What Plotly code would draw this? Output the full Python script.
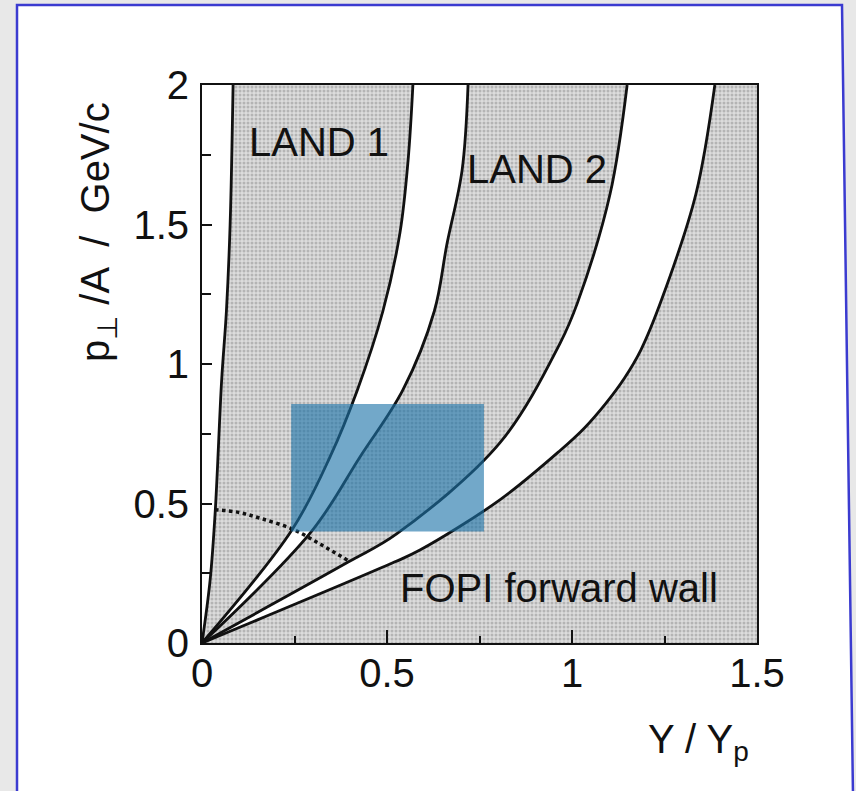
import plotly.graph_objects as go

# ---- data (Y/Yp, pt/A in GeV/c) ----
c1_Y  = [0.0, 0.022, 0.036, 0.053, 0.066, 0.076, 0.084]
c1_pt = [0.0, 0.226, 0.477, 0.94, 1.19, 1.5, 2.0]

c2_Y  = [0.0, 0.243, 0.346, 0.42, 0.489, 0.535, 0.557, 0.57]
c2_pt = [0.0, 0.405, 0.667, 0.907, 1.19, 1.47, 1.73, 2.0]

c3_Y  = [0.0, 0.296, 0.427, 0.543, 0.628, 0.662, 0.703, 0.719]
c3_pt = [0.0, 0.40, 0.667, 0.907, 1.19, 1.43, 1.695, 2.0]

c4_Y  = [0.0, 0.395, 0.525, 0.805, 0.968, 1.015, 1.103, 1.149]
c4_pt = [0.0, 0.29, 0.39, 0.717, 1.075, 1.22, 1.61, 2.0]

c5_Y  = [0.0, 0.52, 0.589, 0.805, 0.968, 1.033, 1.092, 1.142, 1.186, 1.242, 1.335, 1.386]
c5_pt = [0.0, 0.29, 0.333, 0.513, 0.69, 0.77, 0.86, 0.95, 1.05, 1.23, 1.61, 2.0]

dot_Y  = [0.035, 0.10, 0.16, 0.245, 0.325, 0.398]
dot_pt = [0.478, 0.468, 0.446, 0.408, 0.35, 0.293]

highlight_Y = [0.241, 0.762]
highlight_pt = [0.40, 0.857]

x_range = [0, 1.5]
y_range = [0, 2]
x_ticks = [0, 0.5, 1, 1.5]
x_ticktext = ["0", "0.5", "1", "1.5"]
y_ticks = [0, 0.5, 1, 1.5, 2]
y_ticktext = ["0", "0.5", "1", "1.5", "2"]

labels = [("LAND 1", 0.122, 1.795), ("LAND 2", 0.711, 1.70), ("FOPI forward wall", 0.530, 0.197)]

FONT = "Liberation Sans, Arial, Helvetica, sans-serif"
INK = "#111111"

fig = go.Figure()
line = dict(color=INK, width=2.8, shape="spline", smoothing=1.0)

# stippled gray acceptance background over the full axis range
fig.add_trace(go.Scatter(x=[x_range[0], x_range[1], x_range[1], x_range[0]],
                         y=[y_range[0], y_range[0], y_range[1], y_range[1]],
                         mode="none", fill="toself", fillcolor="#cfcfcf",
                         fillpattern=dict(shape=".", bgcolor="#dcdcdc", fgcolor="#8c8c8c",
                                          size=4, solidity=0.45)))
fig.add_trace(go.Scatter(x=c1_Y, y=c1_pt, mode="lines", line=line, fill="tozerox", fillcolor="white"))
fig.add_trace(go.Scatter(x=c2_Y, y=c2_pt, mode="lines", line=line))
fig.add_trace(go.Scatter(x=c3_Y, y=c3_pt, mode="lines", line=line, fill="tonextx", fillcolor="white"))
fig.add_trace(go.Scatter(x=c4_Y, y=c4_pt, mode="lines", line=line))
fig.add_trace(go.Scatter(x=c5_Y, y=c5_pt, mode="lines", line=line, fill="tonextx", fillcolor="white"))
fig.add_trace(go.Scatter(x=dot_Y, y=dot_pt, mode="lines",
                         line=dict(color=INK, width=3.5, dash="dot", shape="spline")))

for text, xv, yv in labels:
    fig.add_annotation(x=xv, y=yv, text=text, showarrow=False, xanchor="left", yanchor="middle",
                       font=dict(family=FONT, size=40, color=INK))

# highlight rectangle
fig.add_shape(type="rect", xref="x", yref="y", x0=highlight_Y[0], x1=highlight_Y[1],
              y0=highlight_pt[0], y1=highlight_pt[1], fillcolor="rgba(28,115,168,0.62)",
              line=dict(width=0), layer="above")

# page frame: gray strips and blue border (paper coords relative to plot area)
W, H = 856, 791
L, R, T, B = 202, 99, 85, 148
pw, ph = W - L - R, H - T - B
def px(x): return (x - L) / pw
def py(y): return (H - B - y) / ph

fig.add_shape(type="rect", xref="paper", yref="paper", x0=px(0), x1=px(16), y0=py(0), y1=py(H + 5),
              fillcolor="#e8e8e8", line=dict(width=0), layer="below")
fig.add_shape(type="rect", xref="paper", yref="paper", x0=px(0), x1=px(W), y0=py(0), y1=py(4),
              fillcolor="#e8e8e8", line=dict(width=0), layer="below")
fig.add_shape(type="path", xref="paper", yref="paper",
              path=f"M {px(842)} {py(4)} L {px(W+2)} {py(4)} L {px(W+2)} {py(H+5)} L {px(854)} {py(H+5)} Z",
              fillcolor="#e8e8e8", line=dict(width=0), layer="below")
fig.add_shape(type="path", xref="paper", yref="paper",
              path=f"M {px(17)} {py(H+5)} L {px(17)} {py(5)} L {px(842)} {py(5)} L {px(853)} {py(H+5)}",
              line=dict(color="#3b3bd0", width=2.5), layer="below")

# axis titles
fig.add_annotation(xref="paper", yref="paper", x=px(98), y=py(232), text="p<sub>⊥</sub> /A \u00a0/ \u00a0GeV/c",
                   textangle=-90, showarrow=False, xanchor="center", yanchor="middle",
                   font=dict(family=FONT, size=40, color=INK))
fig.add_annotation(xref="paper", yref="paper", x=px(646), y=py(742), text="Y / Y<sub>p</sub>",
                   showarrow=False, xanchor="left", yanchor="middle",
                   font=dict(family=FONT, size=40, color=INK))

axis_common = dict(showgrid=False, zeroline=False, showline=True, linecolor=INK, linewidth=2,
                   mirror=True, ticks="inside", tickcolor=INK, tickwidth=2,
                   tickfont=dict(family=FONT, size=40, color=INK))
fig.update_xaxes(range=x_range, tickvals=x_ticks, ticktext=x_ticktext, ticklen=13,
                 minor=dict(dtick=0.25, ticks="inside", ticklen=7, tickcolor=INK, tickwidth=2),
                 ticklabelstandoff=-6, **axis_common)
fig.update_yaxes(range=y_range, tickvals=y_ticks, ticktext=y_ticktext, ticklen=10,
                 minor=dict(dtick=0.25, ticks="inside", ticklen=9, tickcolor=INK, tickwidth=2),
                 ticklabelstandoff=3, **axis_common)

fig.update_layout(width=W, height=H, margin=dict(l=L, r=R, t=T, b=B, pad=0),
                  paper_bgcolor="white", plot_bgcolor="white", showlegend=False)

fig.write_html("out.html")
